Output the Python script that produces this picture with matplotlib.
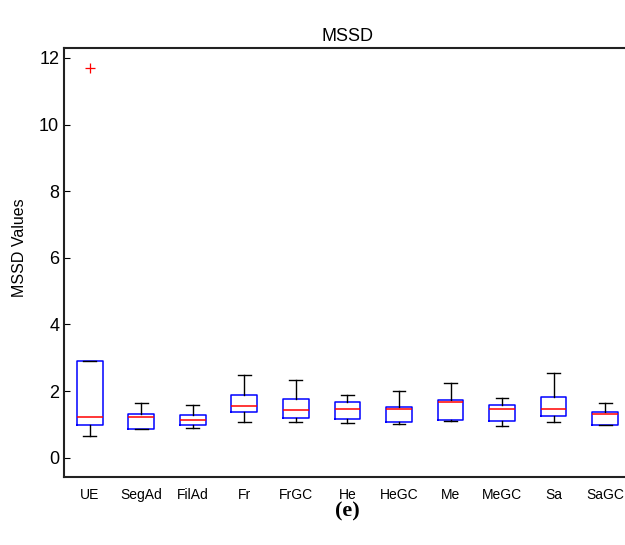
import matplotlib
matplotlib.use("Agg")
import matplotlib.pyplot as plt

# MSSD box plot
groups = ["UE", "SegAd", "FilAd", "Fr", "FrGC", "He",
          "HeGC", "Me", "MeGC", "Sa", "SaGC"]
whislo = [0.66, 0.87, 0.89, 1.08, 1.07, 1.03, 1.02, 1.10, 0.94, 1.07, 0.98]
q1 = [0.98, 0.87, 0.98, 1.36, 1.20, 1.15, 1.07, 1.14, 1.10, 1.24, 0.98]
med = [1.21, 1.23, 1.14, 1.55, 1.43, 1.47, 1.47, 1.66, 1.46, 1.47, 1.30]
q3 = [2.89, 1.32, 1.27, 1.88, 1.77, 1.66, 1.52, 1.74, 1.59, 1.83, 1.36]
whishi = [2.89, 1.65, 1.59, 2.47, 2.34, 1.88, 2.00, 2.23, 1.80, 2.54, 1.64]
fliers = [[11.69], [], [], [], [], [], [], [], [], [], []]

plt.rcParams["font.family"] = ["Liberation Sans", "DejaVu Sans"]

fig = plt.figure(figsize=(6.25, 5.45), dpi=100)
ax = fig.add_axes([0.1024, 0.1248, 0.907, 0.7872])

stats = [dict(label=g, whislo=a, q1=b, med=c, q3=d, whishi=e, fliers=f)
         for g, a, b, c, d, e, f in zip(groups, whislo, q1, med, q3, whishi, fliers)]
ax.bxp(stats, widths=0.5, showfliers=True,
       boxprops=dict(color="blue", lw=1.1),
       medianprops=dict(color="red", lw=1.1),
       whiskerprops=dict(color="black", lw=1.0),
       capprops=dict(color="black", lw=1.0),
       flierprops=dict(marker="+", markeredgecolor="red", markersize=7,
                       markeredgewidth=0.9, linestyle="none"))

ax.set_xlim(0.5, 11.5)
ax.set_ylim(-0.58, 12.3)
ax.set_yticks(range(0, 13, 2))
ax.tick_params(axis="y", direction="in", length=4, right=True, labelsize=13,
               width=0.8)
ax.tick_params(axis="x", length=0, labelsize=10, pad=8)
for s in ax.spines.values():
    s.set_linewidth(1.5)
    s.set_color("#222222")

ax.set_title("MSSD", fontsize=13, pad=5)
ax.set_ylabel("MSSD Values", fontsize=11.5)
ax.yaxis.set_label_coords(-0.066, 0.535)
fig.text(0.555, 0.062, "(e)", fontsize=16, fontweight="bold",
         family=["Liberation Serif", "DejaVu Serif"], ha="center", va="center")

fig.savefig("out.png", dpi=100)
